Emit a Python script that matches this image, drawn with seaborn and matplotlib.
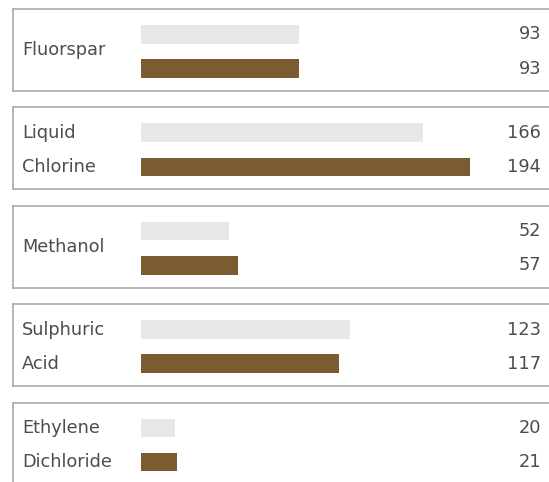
import numpy as np
import pandas as pd
import matplotlib
matplotlib.use("Agg")
import matplotlib.pyplot as plt
import matplotlib.transforms as mtrans
import seaborn as sns

# data
chemicals = ["Fluorspar", "Liquid\nChlorine", "Methanol", "Sulphuric\nAcid", "Ethylene\nDichloride"]
prev_vals = [93, 166, 52, 123, 20]
curr_vals = [93, 194, 57, 117, 21]

gray = "#e6e7e8"
brown = "#7b5b32"
txt = "#4d4d4d"
border = "#b0b0b0"

sns.set_style("white")
plt.rcParams["font.family"] = ["DejaVu Sans"]

W, H = 549, 482
fig = plt.figure(figsize=(W / 100, H / 100), dpi=100)

px_per_unit = 1.696
left_px, bar0_px = 13, 141
panel_top, panel_step, panel_h = 9, 98.4, 82
axw = 560 - left_px

for i, name in enumerate(chemicals):
    top = panel_top + panel_step * i
    ax = fig.add_axes([left_px / W, (H - top - panel_h) / H, axw / W, panel_h / H])
    df = pd.DataFrame({"kind": ["prev", "curr"], "value": [prev_vals[i], curr_vals[i]]})
    sns.barplot(data=df, x="value", y="kind", hue="kind", palette=[gray, brown],
                legend=False, width=0.54, saturation=1, linewidth=0, ax=ax)
    ax.set_xlim(-(bar0_px - left_px) / px_per_unit, (axw - (bar0_px - left_px)) / px_per_unit)
    unit = 34.2
    c0 = 25.3
    ax.set_ylim((panel_h - c0) / unit, -c0 / unit)
    ax.set_xticks([])
    ax.set_yticks([])
    ax.set_xlabel("")
    ax.set_ylabel("")
    for s in ["left", "top", "bottom"]:
        ax.spines[s].set_visible(True)
        ax.spines[s].set_color(border)
        ax.spines[s].set_linewidth(1.3)
    ax.spines["right"].set_visible(False)

    tr = mtrans.blended_transform_factory(fig.transFigure, ax.transData)
    lines = name.split("\n")
    if len(lines) == 1:
        ax.text(22 / W, (panel_h / 2 - c0) / unit, lines[0], transform=tr,
                ha="left", va="center", fontsize=12.8, color=txt)
    else:
        for j, ln in enumerate(lines):
            ax.text(22 / W, j, ln, transform=tr, ha="left", va="center",
                    fontsize=12.8, color=txt)
    for j, v in enumerate([prev_vals[i], curr_vals[i]]):
        ax.text(541 / W, j, str(v), transform=tr, ha="right", va="center",
                fontsize=12.8, color=txt)

fig.savefig("out.png", dpi=100)
